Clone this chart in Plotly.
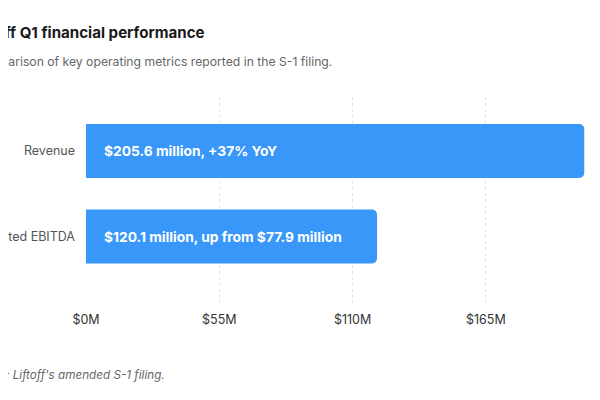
import plotly.graph_objects as go

metrics = ["Revenue", "Adjusted EBITDA"]
values = [205.6, 120.1]
bar_labels = ["$205.6 million, +37% YoY", "$120.1 million, up from $77.9 million"]
tick_vals = [0, 55, 110, 165, 220]
tick_text = ["$0M", "$55M", "$110M", "$165M", "$220M"]

font = "Inter, Roboto, sans-serif"

fig = go.Figure()
fig.add_trace(go.Bar(
    x=values,
    y=metrics,
    orientation="h",
    marker=dict(color="#3897f8", line=dict(width=0)),
    hoverinfo="skip",
))

for m, v, t in zip(metrics, values, bar_labels):
    fig.add_annotation(x=0, y=m, text=t, xanchor="left", xshift=16,
                       showarrow=False, font=dict(family=font, size=13.8, color="white", weight="bold"))

fig.add_annotation(xref="paper", yref="paper", x=-0.2215, y=1.0, yshift=65, yanchor="middle",
                   xanchor="left", showarrow=False, text="<b>Liftoff Q1 financial performance</b>",
                   font=dict(family=font, size=15.1, color="#1a1a1a"))
fig.add_annotation(xref="paper", yref="paper", x=-0.2385, y=1.0, yshift=36, yanchor="middle",
                   xanchor="left", showarrow=False,
                   text="A comparison of key operating metrics reported in the S-1 filing.",
                   font=dict(family=font, size=12.2, color="#666666"))
fig.add_annotation(xref="paper", yref="paper", x=-0.2312, y=0, yshift=-72, yanchor="middle",
                   xanchor="left", showarrow=False,
                   text="<i>Source: Liftoff's amended S-1 filing.</i>",
                   font=dict(family=font, size=11.7, color="#666666"))

fig.update_layout(
    width=600, height=400,
    margin=dict(l=78, r=0, t=89, b=105),
    paper_bgcolor="white", plot_bgcolor="white",
    showlegend=False,
    bargap=0.37,
    barcornerradius=5,
    font=dict(family=font, size=12, color="#444444"),
)
fig.update_xaxes(
    range=[0, 215.4], tickvals=tick_vals, ticktext=tick_text,
    showgrid=True, gridcolor="#e3e3e3", griddash="dot", gridwidth=1,
    zeroline=False, showline=False, ticks="", ticklabelstandoff=7,
    tickfont=dict(size=12.5, color="#333333"),
)
fig.update_yaxes(
    range=[1.778, -0.632], showgrid=False, zeroline=False, showline=False,
    ticks="", ticklabelstandoff=10, automargin=False,
    tickfont=dict(size=12.5, color="#555555"),
)

fig.write_html("out.html")
